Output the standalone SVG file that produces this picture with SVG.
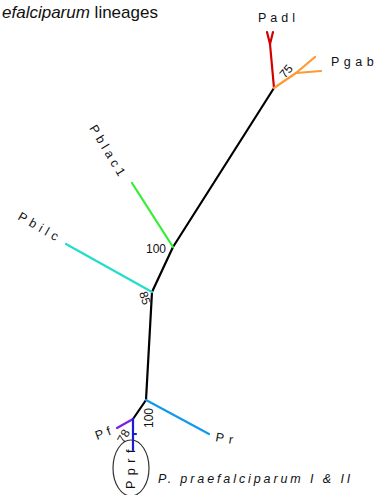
<svg xmlns="http://www.w3.org/2000/svg" width="380" height="495" viewBox="0 0 380 495">
  <style>
    .br { fill: none; stroke-width: 2.2; stroke-linecap: round; stroke-linejoin: round; }
    .lbl { font-family: "Liberation Sans", Arial, sans-serif; font-size: 12.5px; fill: #111; }
    .bs { font-family: "Liberation Sans", Arial, sans-serif; font-size: 12px; fill: #111; }
    .title { font-family: "Liberation Sans", Arial, sans-serif; font-size: 17px; fill: #111; }
  </style>
  <rect width="380" height="495" fill="#ffffff"/>

  <!-- caption fragment -->
  <text class="title" x="2" y="18"><tspan font-style="italic">efalciparum</tspan> lineages</text>

  <!-- branches -->
  <g id="connectors">
    <!-- backbone -->
    <polyline class="br" stroke="#000" points="274,88 173,247 152,292 146,400 133,419"/>
    <!-- Padl -->
    <polyline class="br" stroke="#d40000" points="274,88 270,44"/>
    <polyline class="br" stroke="#d40000" points="267,32 270,44 273,32"/>
    <!-- Pgab -->
    <polyline class="br" stroke="#ff9933" points="274,88 296,73 315,57"/>
    <polyline class="br" stroke="#ff9933" points="296,73 321,71"/>
    <!-- Pblac1 -->
    <line class="br" stroke="#33ee33" x1="173" y1="247" x2="132" y2="183"/>
    <!-- Pbilc -->
    <line class="br" stroke="#22ddcc" x1="152" y1="292" x2="66" y2="244"/>
    <!-- Pr -->
    <line class="br" stroke="#1199ee" x1="146" y1="400" x2="209" y2="434"/>
    <!-- Pf -->
    <line class="br" stroke="#7722dd" x1="133" y1="419" x2="117" y2="428"/>
    <!-- Pprf -->
    <line class="br" stroke="#1a1add" x1="133" y1="419" x2="133" y2="450"/>
    <line class="br" stroke="#1a1add" stroke-width="1.5" x1="133" y1="434" x2="136" y2="434"/>
  </g>

  <!-- tips -->
  <g id="Padl"><text class="lbl" x="258" y="22" letter-spacing="4">Padl</text></g>
  <g id="Pgab"><text class="lbl" x="331" y="66" letter-spacing="4.5">Pgab</text></g>
  <g id="Pblac1"><text class="lbl" transform="translate(89,128) rotate(59)" letter-spacing="3.8">Pblac1</text></g>
  <g id="Pbilc"><text class="lbl" transform="translate(17,219) rotate(30)" letter-spacing="4.3">Pbilc</text></g>
  <g id="Pr"><text class="lbl" transform="translate(215,441) rotate(10)" letter-spacing="5">Pr</text></g>
  <g id="Pf"><text class="lbl" transform="translate(97,440) rotate(-20)" letter-spacing="4">Pf</text></g>
  <g id="Pprf">
    <ellipse cx="131" cy="468" rx="18" ry="28" fill="none" stroke="#333" stroke-width="1.2"/>
    <text class="lbl" transform="translate(135,489) rotate(-90)" letter-spacing="5.5">Pprf</text>
  </g>
  <g id="clade-label">
    <text class="lbl" x="158" y="483" font-style="italic" letter-spacing="2.9">P. praefalciparum I &amp; II</text>
  </g>

  <!-- support values -->
  <g id="support">
    <text class="bs" transform="translate(285,79) rotate(-50)">75</text>
    <text class="bs" x="146" y="253">100</text>
    <text class="bs" transform="translate(139,293) rotate(72)">85</text>
    <text class="bs" transform="translate(153,428) rotate(-90)">100</text>
    <text class="bs" transform="translate(124,444) rotate(-62)">78</text>
  </g>
</svg>
